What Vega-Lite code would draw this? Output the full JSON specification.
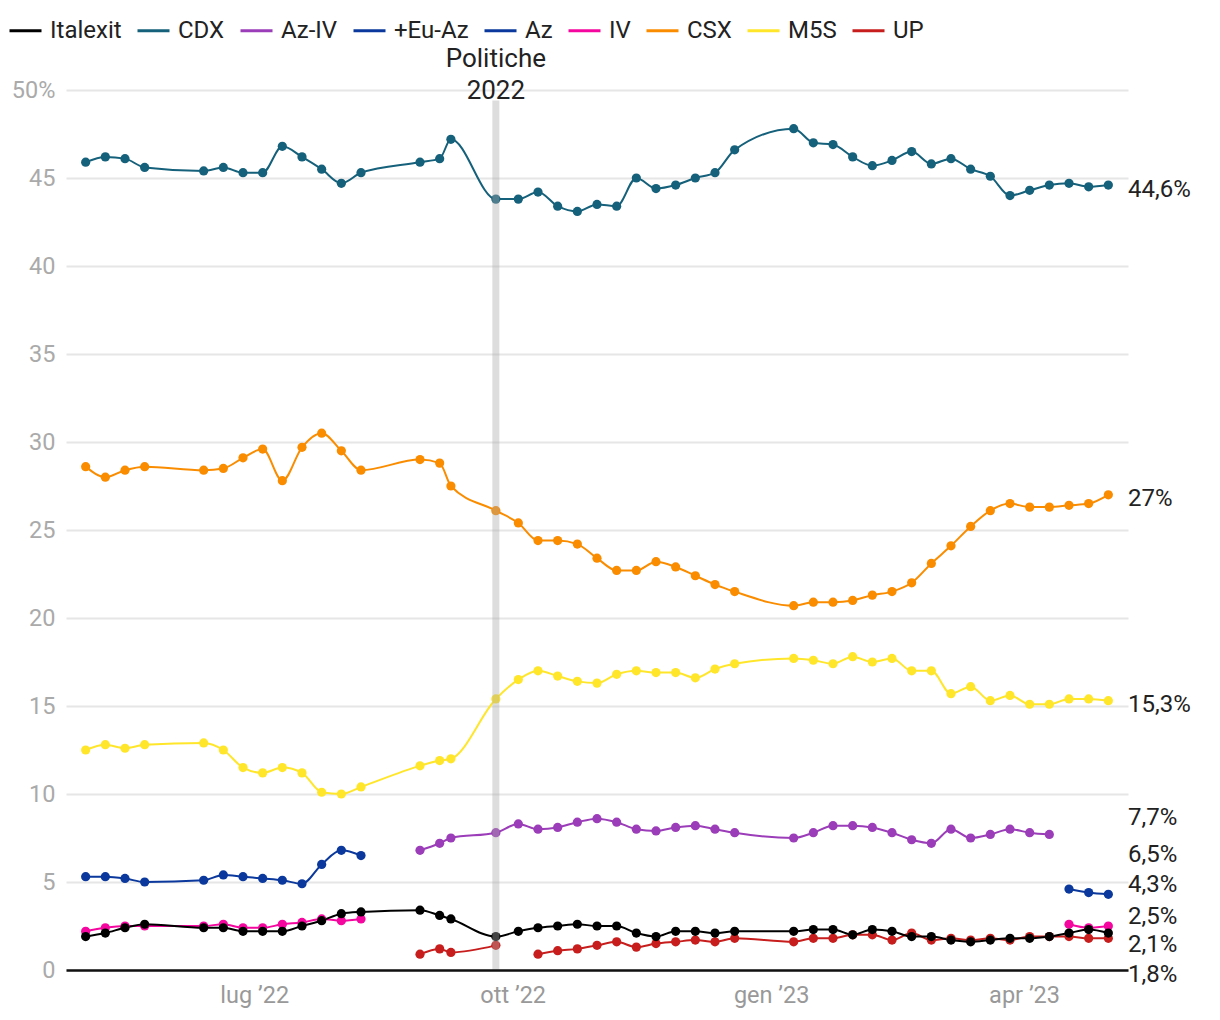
{
  "$schema": "https://vega.github.io/schema/vega-lite/v6.json",
  "width": 1062,
  "height": 880,
  "autosize": {"type": "none"},
  "padding": {"left": 66, "top": 90, "right": 92, "bottom": 50},
  "config": {"font": "Roboto", "view": {"stroke": null}},
  "datasets": {
    "events": [{"date": "2022-09-25", "label": "Politiche\n2022"}],
    "labels": [
      {"party": "CDX", "value": 44.6, "label": "44,6%"},
      {"party": "CSX", "value": 27, "label": "27%"},
      {"party": "M5S", "value": 15.3, "label": "15,3%"},
      {"party": "Az-IV", "value": 7.7, "label": "7,7%"},
      {"party": "+Eu-Az", "value": 6.5, "label": "6,5%"},
      {"party": "Az", "value": 4.3, "label": "4,3%"},
      {"party": "IV", "value": 2.5, "label": "2,5%"},
      {"party": "Italexit", "value": 2.1, "label": "2,1%"},
      {"party": "UP", "value": 1.8, "label": "1,8%"}
    ],
    "polls": [
      {"party":"UP","seg":1,"date":"2022-08-29","value":0.9},
      {"party":"UP","seg":1,"date":"2022-09-05","value":1.2},
      {"party":"UP","seg":1,"date":"2022-09-09","value":1.0},
      {"party":"UP","seg":1,"date":"2022-09-25","value":1.4},
      {"party":"UP","seg":2,"date":"2022-10-10","value":0.9},
      {"party":"UP","seg":2,"date":"2022-10-17","value":1.1},
      {"party":"UP","seg":2,"date":"2022-10-24","value":1.2},
      {"party":"UP","seg":2,"date":"2022-10-31","value":1.4},
      {"party":"UP","seg":2,"date":"2022-11-07","value":1.6},
      {"party":"UP","seg":2,"date":"2022-11-14","value":1.3},
      {"party":"UP","seg":2,"date":"2022-11-21","value":1.5},
      {"party":"UP","seg":2,"date":"2022-11-28","value":1.6},
      {"party":"UP","seg":2,"date":"2022-12-05","value":1.7},
      {"party":"UP","seg":2,"date":"2022-12-12","value":1.6},
      {"party":"UP","seg":2,"date":"2022-12-19","value":1.8},
      {"party":"UP","seg":2,"date":"2023-01-09","value":1.6},
      {"party":"UP","seg":2,"date":"2023-01-16","value":1.8},
      {"party":"UP","seg":2,"date":"2023-01-23","value":1.8},
      {"party":"UP","seg":2,"date":"2023-01-30","value":2.0},
      {"party":"UP","seg":2,"date":"2023-02-06","value":2.0},
      {"party":"UP","seg":2,"date":"2023-02-13","value":1.7},
      {"party":"UP","seg":2,"date":"2023-02-20","value":2.1},
      {"party":"UP","seg":2,"date":"2023-02-27","value":1.7},
      {"party":"UP","seg":2,"date":"2023-03-06","value":1.8},
      {"party":"UP","seg":2,"date":"2023-03-13","value":1.7},
      {"party":"UP","seg":2,"date":"2023-03-20","value":1.8},
      {"party":"UP","seg":2,"date":"2023-03-27","value":1.7},
      {"party":"UP","seg":2,"date":"2023-04-03","value":1.9},
      {"party":"UP","seg":2,"date":"2023-04-10","value":1.9},
      {"party":"UP","seg":2,"date":"2023-04-17","value":1.9},
      {"party":"UP","seg":2,"date":"2023-04-24","value":1.8},
      {"party":"UP","seg":2,"date":"2023-05-01","value":1.8},

      {"party":"M5S","date":"2022-05-02","value":12.5},
      {"party":"M5S","date":"2022-05-09","value":12.8},
      {"party":"M5S","date":"2022-05-16","value":12.6},
      {"party":"M5S","date":"2022-05-23","value":12.8},
      {"party":"M5S","date":"2022-06-13","value":12.9},
      {"party":"M5S","date":"2022-06-20","value":12.5},
      {"party":"M5S","date":"2022-06-27","value":11.5},
      {"party":"M5S","date":"2022-07-04","value":11.2},
      {"party":"M5S","date":"2022-07-11","value":11.5},
      {"party":"M5S","date":"2022-07-18","value":11.2},
      {"party":"M5S","date":"2022-07-25","value":10.1},
      {"party":"M5S","date":"2022-08-01","value":10.0},
      {"party":"M5S","date":"2022-08-08","value":10.4},
      {"party":"M5S","date":"2022-08-29","value":11.6},
      {"party":"M5S","date":"2022-09-05","value":11.9},
      {"party":"M5S","date":"2022-09-09","value":12.0},
      {"party":"M5S","date":"2022-09-25","value":15.4},
      {"party":"M5S","date":"2022-10-03","value":16.5},
      {"party":"M5S","date":"2022-10-10","value":17.0},
      {"party":"M5S","date":"2022-10-17","value":16.7},
      {"party":"M5S","date":"2022-10-24","value":16.4},
      {"party":"M5S","date":"2022-10-31","value":16.3},
      {"party":"M5S","date":"2022-11-07","value":16.8},
      {"party":"M5S","date":"2022-11-14","value":17.0},
      {"party":"M5S","date":"2022-11-21","value":16.9},
      {"party":"M5S","date":"2022-11-28","value":16.9},
      {"party":"M5S","date":"2022-12-05","value":16.6},
      {"party":"M5S","date":"2022-12-12","value":17.1},
      {"party":"M5S","date":"2022-12-19","value":17.4},
      {"party":"M5S","date":"2023-01-09","value":17.7},
      {"party":"M5S","date":"2023-01-16","value":17.6},
      {"party":"M5S","date":"2023-01-23","value":17.4},
      {"party":"M5S","date":"2023-01-30","value":17.8},
      {"party":"M5S","date":"2023-02-06","value":17.5},
      {"party":"M5S","date":"2023-02-13","value":17.7},
      {"party":"M5S","date":"2023-02-20","value":17.0},
      {"party":"M5S","date":"2023-02-27","value":17.0},
      {"party":"M5S","date":"2023-03-06","value":15.7},
      {"party":"M5S","date":"2023-03-13","value":16.1},
      {"party":"M5S","date":"2023-03-20","value":15.3},
      {"party":"M5S","date":"2023-03-27","value":15.6},
      {"party":"M5S","date":"2023-04-03","value":15.1},
      {"party":"M5S","date":"2023-04-10","value":15.1},
      {"party":"M5S","date":"2023-04-17","value":15.4},
      {"party":"M5S","date":"2023-04-24","value":15.4},
      {"party":"M5S","date":"2023-05-01","value":15.3},

      {"party":"CSX","date":"2022-05-02","value":28.6},
      {"party":"CSX","date":"2022-05-09","value":28.0},
      {"party":"CSX","date":"2022-05-16","value":28.4},
      {"party":"CSX","date":"2022-05-23","value":28.6},
      {"party":"CSX","date":"2022-06-13","value":28.4},
      {"party":"CSX","date":"2022-06-20","value":28.5},
      {"party":"CSX","date":"2022-06-27","value":29.1},
      {"party":"CSX","date":"2022-07-04","value":29.6},
      {"party":"CSX","date":"2022-07-11","value":27.8},
      {"party":"CSX","date":"2022-07-18","value":29.7},
      {"party":"CSX","date":"2022-07-25","value":30.5},
      {"party":"CSX","date":"2022-08-01","value":29.5},
      {"party":"CSX","date":"2022-08-08","value":28.4},
      {"party":"CSX","date":"2022-08-29","value":29.0},
      {"party":"CSX","date":"2022-09-05","value":28.8},
      {"party":"CSX","date":"2022-09-09","value":27.5},
      {"party":"CSX","date":"2022-09-25","value":26.1},
      {"party":"CSX","date":"2022-10-03","value":25.4},
      {"party":"CSX","date":"2022-10-10","value":24.4},
      {"party":"CSX","date":"2022-10-17","value":24.4},
      {"party":"CSX","date":"2022-10-24","value":24.2},
      {"party":"CSX","date":"2022-10-31","value":23.4},
      {"party":"CSX","date":"2022-11-07","value":22.7},
      {"party":"CSX","date":"2022-11-14","value":22.7},
      {"party":"CSX","date":"2022-11-21","value":23.2},
      {"party":"CSX","date":"2022-11-28","value":22.9},
      {"party":"CSX","date":"2022-12-05","value":22.4},
      {"party":"CSX","date":"2022-12-12","value":21.9},
      {"party":"CSX","date":"2022-12-19","value":21.5},
      {"party":"CSX","date":"2023-01-09","value":20.7},
      {"party":"CSX","date":"2023-01-16","value":20.9},
      {"party":"CSX","date":"2023-01-23","value":20.9},
      {"party":"CSX","date":"2023-01-30","value":21.0},
      {"party":"CSX","date":"2023-02-06","value":21.3},
      {"party":"CSX","date":"2023-02-13","value":21.5},
      {"party":"CSX","date":"2023-02-20","value":22.0},
      {"party":"CSX","date":"2023-02-27","value":23.1},
      {"party":"CSX","date":"2023-03-06","value":24.1},
      {"party":"CSX","date":"2023-03-13","value":25.2},
      {"party":"CSX","date":"2023-03-20","value":26.1},
      {"party":"CSX","date":"2023-03-27","value":26.5},
      {"party":"CSX","date":"2023-04-03","value":26.3},
      {"party":"CSX","date":"2023-04-10","value":26.3},
      {"party":"CSX","date":"2023-04-17","value":26.4},
      {"party":"CSX","date":"2023-04-24","value":26.5},
      {"party":"CSX","date":"2023-05-01","value":27.0},

      {"party":"CDX","date":"2022-05-02","value":45.9},
      {"party":"CDX","date":"2022-05-09","value":46.2},
      {"party":"CDX","date":"2022-05-16","value":46.1},
      {"party":"CDX","date":"2022-05-23","value":45.6},
      {"party":"CDX","date":"2022-06-13","value":45.4},
      {"party":"CDX","date":"2022-06-20","value":45.6},
      {"party":"CDX","date":"2022-06-27","value":45.3},
      {"party":"CDX","date":"2022-07-04","value":45.3},
      {"party":"CDX","date":"2022-07-11","value":46.8},
      {"party":"CDX","date":"2022-07-18","value":46.2},
      {"party":"CDX","date":"2022-07-25","value":45.5},
      {"party":"CDX","date":"2022-08-01","value":44.7},
      {"party":"CDX","date":"2022-08-08","value":45.3},
      {"party":"CDX","date":"2022-08-29","value":45.9},
      {"party":"CDX","date":"2022-09-05","value":46.1},
      {"party":"CDX","date":"2022-09-09","value":47.2},
      {"party":"CDX","date":"2022-09-25","value":43.8},
      {"party":"CDX","date":"2022-10-03","value":43.8},
      {"party":"CDX","date":"2022-10-10","value":44.2},
      {"party":"CDX","date":"2022-10-17","value":43.4},
      {"party":"CDX","date":"2022-10-24","value":43.1},
      {"party":"CDX","date":"2022-10-31","value":43.5},
      {"party":"CDX","date":"2022-11-07","value":43.4},
      {"party":"CDX","date":"2022-11-14","value":45.0},
      {"party":"CDX","date":"2022-11-21","value":44.4},
      {"party":"CDX","date":"2022-11-28","value":44.6},
      {"party":"CDX","date":"2022-12-05","value":45.0},
      {"party":"CDX","date":"2022-12-12","value":45.3},
      {"party":"CDX","date":"2022-12-19","value":46.6},
      {"party":"CDX","date":"2023-01-09","value":47.8},
      {"party":"CDX","date":"2023-01-16","value":47.0},
      {"party":"CDX","date":"2023-01-23","value":46.9},
      {"party":"CDX","date":"2023-01-30","value":46.2},
      {"party":"CDX","date":"2023-02-06","value":45.7},
      {"party":"CDX","date":"2023-02-13","value":46.0},
      {"party":"CDX","date":"2023-02-20","value":46.5},
      {"party":"CDX","date":"2023-02-27","value":45.8},
      {"party":"CDX","date":"2023-03-06","value":46.1},
      {"party":"CDX","date":"2023-03-13","value":45.5},
      {"party":"CDX","date":"2023-03-20","value":45.1},
      {"party":"CDX","date":"2023-03-27","value":44.0},
      {"party":"CDX","date":"2023-04-03","value":44.3},
      {"party":"CDX","date":"2023-04-10","value":44.6},
      {"party":"CDX","date":"2023-04-17","value":44.7},
      {"party":"CDX","date":"2023-04-24","value":44.5},
      {"party":"CDX","date":"2023-05-01","value":44.6},

      {"party":"+Eu-Az","date":"2022-05-02","value":5.3},
      {"party":"+Eu-Az","date":"2022-05-09","value":5.3},
      {"party":"+Eu-Az","date":"2022-05-16","value":5.2},
      {"party":"+Eu-Az","date":"2022-05-23","value":5.0},
      {"party":"+Eu-Az","date":"2022-06-13","value":5.1},
      {"party":"+Eu-Az","date":"2022-06-20","value":5.4},
      {"party":"+Eu-Az","date":"2022-06-27","value":5.3},
      {"party":"+Eu-Az","date":"2022-07-04","value":5.2},
      {"party":"+Eu-Az","date":"2022-07-11","value":5.1},
      {"party":"+Eu-Az","date":"2022-07-18","value":4.9},
      {"party":"+Eu-Az","date":"2022-07-25","value":6.0},
      {"party":"+Eu-Az","date":"2022-08-01","value":6.8},
      {"party":"+Eu-Az","date":"2022-08-08","value":6.5},

      {"party":"Az","date":"2023-04-17","value":4.6},
      {"party":"Az","date":"2023-04-24","value":4.4},
      {"party":"Az","date":"2023-05-01","value":4.3},

      {"party":"Az-IV","date":"2022-08-29","value":6.8},
      {"party":"Az-IV","date":"2022-09-05","value":7.2},
      {"party":"Az-IV","date":"2022-09-09","value":7.5},
      {"party":"Az-IV","date":"2022-09-25","value":7.8},
      {"party":"Az-IV","date":"2022-10-03","value":8.3},
      {"party":"Az-IV","date":"2022-10-10","value":8.0},
      {"party":"Az-IV","date":"2022-10-17","value":8.1},
      {"party":"Az-IV","date":"2022-10-24","value":8.4},
      {"party":"Az-IV","date":"2022-10-31","value":8.6},
      {"party":"Az-IV","date":"2022-11-07","value":8.4},
      {"party":"Az-IV","date":"2022-11-14","value":8.0},
      {"party":"Az-IV","date":"2022-11-21","value":7.9},
      {"party":"Az-IV","date":"2022-11-28","value":8.1},
      {"party":"Az-IV","date":"2022-12-05","value":8.2},
      {"party":"Az-IV","date":"2022-12-12","value":8.0},
      {"party":"Az-IV","date":"2022-12-19","value":7.8},
      {"party":"Az-IV","date":"2023-01-09","value":7.5},
      {"party":"Az-IV","date":"2023-01-16","value":7.8},
      {"party":"Az-IV","date":"2023-01-23","value":8.2},
      {"party":"Az-IV","date":"2023-01-30","value":8.2},
      {"party":"Az-IV","date":"2023-02-06","value":8.1},
      {"party":"Az-IV","date":"2023-02-13","value":7.8},
      {"party":"Az-IV","date":"2023-02-20","value":7.4},
      {"party":"Az-IV","date":"2023-02-27","value":7.2},
      {"party":"Az-IV","date":"2023-03-06","value":8.0},
      {"party":"Az-IV","date":"2023-03-13","value":7.5},
      {"party":"Az-IV","date":"2023-03-20","value":7.7},
      {"party":"Az-IV","date":"2023-03-27","value":8.0},
      {"party":"Az-IV","date":"2023-04-03","value":7.8},
      {"party":"Az-IV","date":"2023-04-10","value":7.7},

      {"party":"IV","seg":1,"date":"2022-05-02","value":2.2},
      {"party":"IV","seg":1,"date":"2022-05-09","value":2.4},
      {"party":"IV","seg":1,"date":"2022-05-16","value":2.5},
      {"party":"IV","seg":1,"date":"2022-05-23","value":2.5},
      {"party":"IV","seg":1,"date":"2022-06-13","value":2.5},
      {"party":"IV","seg":1,"date":"2022-06-20","value":2.6},
      {"party":"IV","seg":1,"date":"2022-06-27","value":2.4},
      {"party":"IV","seg":1,"date":"2022-07-04","value":2.4},
      {"party":"IV","seg":1,"date":"2022-07-11","value":2.6},
      {"party":"IV","seg":1,"date":"2022-07-18","value":2.7},
      {"party":"IV","seg":1,"date":"2022-07-25","value":2.9},
      {"party":"IV","seg":1,"date":"2022-08-01","value":2.8},
      {"party":"IV","seg":1,"date":"2022-08-08","value":2.9},
      {"party":"IV","seg":2,"date":"2023-04-17","value":2.6},
      {"party":"IV","seg":2,"date":"2023-04-24","value":2.4},
      {"party":"IV","seg":2,"date":"2023-05-01","value":2.5},

      {"party":"Italexit","date":"2022-05-02","value":1.9},
      {"party":"Italexit","date":"2022-05-09","value":2.1},
      {"party":"Italexit","date":"2022-05-16","value":2.4},
      {"party":"Italexit","date":"2022-05-23","value":2.6},
      {"party":"Italexit","date":"2022-06-13","value":2.4},
      {"party":"Italexit","date":"2022-06-20","value":2.4},
      {"party":"Italexit","date":"2022-06-27","value":2.2},
      {"party":"Italexit","date":"2022-07-04","value":2.2},
      {"party":"Italexit","date":"2022-07-11","value":2.2},
      {"party":"Italexit","date":"2022-07-18","value":2.5},
      {"party":"Italexit","date":"2022-07-25","value":2.8},
      {"party":"Italexit","date":"2022-08-01","value":3.2},
      {"party":"Italexit","date":"2022-08-08","value":3.3},
      {"party":"Italexit","date":"2022-08-29","value":3.4},
      {"party":"Italexit","date":"2022-09-05","value":3.1},
      {"party":"Italexit","date":"2022-09-09","value":2.9},
      {"party":"Italexit","date":"2022-09-25","value":1.9},
      {"party":"Italexit","date":"2022-10-03","value":2.2},
      {"party":"Italexit","date":"2022-10-10","value":2.4},
      {"party":"Italexit","date":"2022-10-17","value":2.5},
      {"party":"Italexit","date":"2022-10-24","value":2.6},
      {"party":"Italexit","date":"2022-10-31","value":2.5},
      {"party":"Italexit","date":"2022-11-07","value":2.5},
      {"party":"Italexit","date":"2022-11-14","value":2.1},
      {"party":"Italexit","date":"2022-11-21","value":1.9},
      {"party":"Italexit","date":"2022-11-28","value":2.2},
      {"party":"Italexit","date":"2022-12-05","value":2.2},
      {"party":"Italexit","date":"2022-12-12","value":2.1},
      {"party":"Italexit","date":"2022-12-19","value":2.2},
      {"party":"Italexit","date":"2023-01-09","value":2.2},
      {"party":"Italexit","date":"2023-01-16","value":2.3},
      {"party":"Italexit","date":"2023-01-23","value":2.3},
      {"party":"Italexit","date":"2023-01-30","value":2.0},
      {"party":"Italexit","date":"2023-02-06","value":2.3},
      {"party":"Italexit","date":"2023-02-13","value":2.2},
      {"party":"Italexit","date":"2023-02-20","value":1.9},
      {"party":"Italexit","date":"2023-02-27","value":1.9},
      {"party":"Italexit","date":"2023-03-06","value":1.7},
      {"party":"Italexit","date":"2023-03-13","value":1.6},
      {"party":"Italexit","date":"2023-03-20","value":1.7},
      {"party":"Italexit","date":"2023-03-27","value":1.8},
      {"party":"Italexit","date":"2023-04-03","value":1.8},
      {"party":"Italexit","date":"2023-04-10","value":1.9},
      {"party":"Italexit","date":"2023-04-17","value":2.1},
      {"party":"Italexit","date":"2023-04-24","value":2.3},
      {"party":"Italexit","date":"2023-05-01","value":2.1}
    ]
  },
  "layer": [
    {
      "data": {"name": "polls"},
      "mark": {"type": "line", "interpolate": "monotone", "strokeWidth": 2},
      "encoding": {
        "x": {
          "field": "date", "type": "temporal",
          "scale": {"type": "utc", "domain": [{"year": 2022, "month": 4, "date": 25, "utc": true}, {"year": 2023, "month": 5, "date": 8, "utc": true}]},
          "axis": {
            "title": null, "grid": false, "ticks": false,
            "values": [{"year": 2022, "month": 7, "date": 1, "utc": true}, {"year": 2022, "month": 10, "date": 1, "utc": true}, {"year": 2023, "month": 1, "date": 1, "utc": true}, {"year": 2023, "month": 4, "date": 1, "utc": true}],
            "labelExpr": "['gen','feb','mar','apr','mag','giu','lug','ago','set','ott','nov','dic'][utcmonth(datum.value)] + ' ’' + utcFormat(datum.value, '%y')",
            "labelFontSize": 23.5, "labelColor": "#999999", "labelPadding": 13,
            "domainColor": "#111111", "domainWidth": 2.5, "zindex": 1
          }
        },
        "y": {
          "field": "value", "type": "quantitative",
          "scale": {"domain": [0, 50], "nice": false},
          "axis": {
            "title": null, "domain": false, "ticks": false,
            "values": [0, 5, 10, 15, 20, 25, 30, 35, 40, 45, 50],
            "labelExpr": "datum.value == 50 ? '50%' : datum.label",
            "labelFontSize": 23.5, "labelColor": "#aaaaaa", "labelPadding": 11,
            "gridColor": "#e6e6e6", "gridWidth": 2
          }
        },
        "color": {
          "field": "party", "type": "nominal",
          "scale": {
            "domain": ["Italexit", "CDX", "Az-IV", "+Eu-Az", "Az", "IV", "CSX", "M5S", "UP"],
            "range": ["#000000", "#15607a", "#9b3cb8", "#0a389c", "#0a389c", "#f5069f", "#fa8c00", "#ffe62b", "#c71e1d"]
          },
          "legend": {
            "orient": "none", "legendX": -58, "legendY": -77, "direction": "horizontal",
            "title": null, "symbolType": "stroke", "symbolSize": 1024, "symbolStrokeWidth": 3,
            "labelFontSize": 24, "labelColor": "#222222", "labelOffset": 7, "columnPadding": 9
          }
        },
        "detail": {"field": "seg", "type": "nominal"}
      }
    },
    {
      "data": {"name": "polls"},
      "mark": {"type": "circle", "size": 85, "opacity": 1},
      "encoding": {
        "x": {"field": "date", "type": "temporal"},
        "y": {"field": "value", "type": "quantitative"},
        "color": {"field": "party", "type": "nominal", "legend": null}
      }
    },
    {
      "data": {"name": "events"},
      "mark": {"type": "rule", "color": "#aaaaaa", "opacity": 0.4, "strokeWidth": 7},
      "encoding": {
        "x": {"field": "date", "type": "temporal"},
        "y": {"datum": 49.4},
        "y2": {"datum": 0}
      }
    },
    {
      "data": {"name": "events"},
      "mark": {"type": "text", "fontSize": 26, "lineHeight": 32, "lineBreak": "\n", "baseline": "middle", "dy": -31, "color": "#222222"},
      "encoding": {
        "x": {"field": "date", "type": "temporal"},
        "y": {"datum": 50},
        "text": {"field": "label"}
      }
    },
    {
      "data": {"name": "labels"},
      "transform": [{"filter": "datum.party == 'CDX' || datum.party == 'CSX' || datum.party == 'M5S'"}],
      "mark": {"type": "text", "align": "left", "baseline": "middle", "dx": 0, "dy": 4.5, "fontSize": 24, "color": "#222222"},
      "encoding": {"x": {"value": "width"}, "y": {"field": "value", "type": "quantitative"}, "text": {"field": "label"}}
    },
    {
      "data": {"name": "labels"},
      "transform": [{"filter": "datum.party == 'Az-IV'"}],
      "mark": {"type": "text", "align": "left", "baseline": "middle", "dx": 0, "dy": -16.5, "fontSize": 24, "color": "#222222"},
      "encoding": {"x": {"value": "width"}, "y": {"field": "value", "type": "quantitative"}, "text": {"field": "label"}}
    },
    {
      "data": {"name": "labels"},
      "transform": [{"filter": "datum.party == '+Eu-Az'"}],
      "mark": {"type": "text", "align": "left", "baseline": "middle", "dx": 0, "dy": -1, "fontSize": 24, "color": "#222222"},
      "encoding": {"x": {"value": "width"}, "y": {"field": "value", "type": "quantitative"}, "text": {"field": "label"}}
    },
    {
      "data": {"name": "labels"},
      "transform": [{"filter": "datum.party == 'Az'"}],
      "mark": {"type": "text", "align": "left", "baseline": "middle", "dx": 0, "dy": -9, "fontSize": 24, "color": "#222222"},
      "encoding": {"x": {"value": "width"}, "y": {"field": "value", "type": "quantitative"}, "text": {"field": "label"}}
    },
    {
      "data": {"name": "labels"},
      "transform": [{"filter": "datum.party == 'IV'"}],
      "mark": {"type": "text", "align": "left", "baseline": "middle", "dx": 0, "dy": -9.5, "fontSize": 24, "color": "#222222"},
      "encoding": {"x": {"value": "width"}, "y": {"field": "value", "type": "quantitative"}, "text": {"field": "label"}}
    },
    {
      "data": {"name": "labels"},
      "transform": [{"filter": "datum.party == 'Italexit'"}],
      "mark": {"type": "text", "align": "left", "baseline": "middle", "dx": 0, "dy": 11.5, "fontSize": 24, "color": "#222222"},
      "encoding": {"x": {"value": "width"}, "y": {"field": "value", "type": "quantitative"}, "text": {"field": "label"}}
    },
    {
      "data": {"name": "labels"},
      "transform": [{"filter": "datum.party == 'UP'"}],
      "mark": {"type": "text", "align": "left", "baseline": "middle", "dx": 0, "dy": 36.5, "fontSize": 24, "color": "#222222"},
      "encoding": {"x": {"value": "width"}, "y": {"field": "value", "type": "quantitative"}, "text": {"field": "label"}}
    }
  ]
}
